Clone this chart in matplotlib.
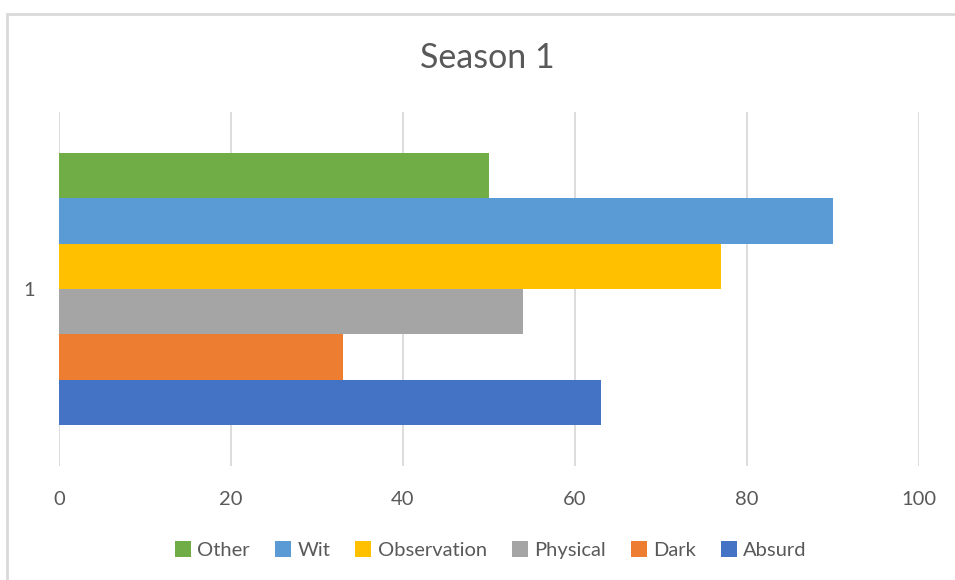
import matplotlib.pyplot as plt
from matplotlib.patches import Rectangle

# one category, six series (drawn bottom to top)
series = ['Absurd', 'Dark', 'Physical', 'Observation', 'Wit', 'Other']
values = [63, 33, 54, 77, 90, 50]
colors = ['#4472C4', '#ED7D31', '#A5A5A5', '#FFC000', '#5B9BD5', '#70AD47']
category = '1'

plt.rcParams['font.family'] = ['Lato', 'DejaVu Sans']
txt = '#595959'

fig = plt.figure(figsize=(9.55, 5.8), dpi=100)
ax = fig.add_axes([59 / 955, 1 - 466 / 580, 860 / 955, 354 / 580])

n = len(series)
for i, (name, v, c) in enumerate(zip(series, values, colors)):
    ax.barh(i - (n - 1) / 2, v, height=1.0, color=c, label=name, zorder=3)

ax.set_xlim(0, 100)
ax.set_ylim(-3.9, 3.9)
ax.set_xticks(range(0, 101, 20))
ax.set_yticks([0])
ax.set_yticklabels([category])
ax.grid(axis='x', color='#D9D9D9', linewidth=1.3, zorder=0)
for s in ax.spines.values():
    s.set_visible(False)
ax.tick_params(axis='both', length=0, colors=txt, labelsize=14.5)
ax.tick_params(axis='x', pad=18)
ax.tick_params(axis='y', pad=17)

fig.text(487 / 955, 1 - 58 / 580, 'Season 1', ha='center', va='center',
         fontsize=24.5, color=txt)

h, l = ax.get_legend_handles_labels()
fig.legend(h[::-1], l[::-1], loc='center', bbox_to_anchor=(491 / 955, 1 - 550 / 580),
           ncol=6, frameon=False, fontsize=14.5, labelcolor=txt,
           handlelength=0.8, handleheight=0.8, handletextpad=0.3,
           columnspacing=1.25)

# chart frame, only top and left edges fall inside the canvas
fig.patches.append(Rectangle((7 / 955, -0.1), 1.1, 1 - 14 / 580 + 0.1,
                             transform=fig.transFigure, fill=False,
                             edgecolor='#D9D9D9', linewidth=2))

fig.savefig('out.png', dpi=100, facecolor='white')
